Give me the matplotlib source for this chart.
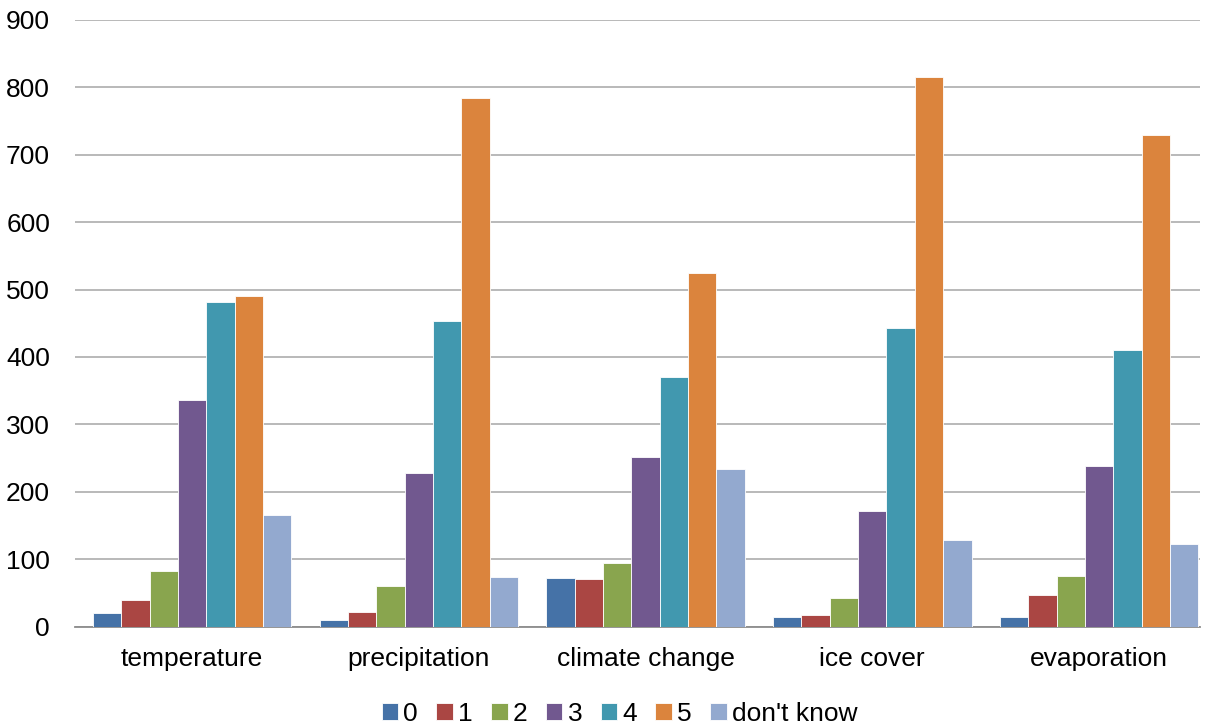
import matplotlib
matplotlib.use("Agg")
import matplotlib.pyplot as plt
import numpy as np

plt.rcParams['font.family'] = ['Liberation Sans', 'DejaVu Sans']

categories = ["temperature", "precipitation", "climate change", "ice cover", "evaporation"]
series_names = ["0", "1", "2", "3", "4", "5", "don't know"]

s0 = [20, 9, 72, 14, 14]
s1 = [39, 22, 70, 17, 47]
s2 = [82, 60, 95, 43, 75]
s3 = [336, 228, 252, 171, 238]
s4 = [482, 454, 371, 443, 411]
s5 = [491, 784, 524, 815, 729]
s_dk = [166, 74, 234, 128, 122]
series = [s0, s1, s2, s3, s4, s5, s_dk]

colors = ["#4572A7", "#AA4643", "#89A54E", "#71588F", "#4198AF", "#DB843D", "#93A9CF"]
y_ticks = [0, 100, 200, 300, 400, 500, 600, 700, 800, 900]

fig = plt.figure(figsize=(12.1, 7.27), dpi=100)
ax = fig.add_axes([0.062, 0.1382, 0.9297, 0.8343])

x = np.arange(len(categories))
width = 0.125
n = len(series)
for i, (vals, name, c) in enumerate(zip(series, series_names, colors)):
    offset = (i - (n - 1) / 2) * width
    ax.bar(x + offset, vals, width, color=c, label=name,
           edgecolor="white", linewidth=0.6, zorder=3)

ax.set_xlim(-0.516, 4.445)
ax.set_ylim(0, 900)
ax.set_yticks(y_ticks)
ax.set_yticklabels([str(t) for t in y_ticks], fontsize=19)
ax.set_xticks(x)
ax.set_xticklabels(categories, fontsize=19)
ax.tick_params(axis='y', length=0, pad=18)
ax.tick_params(axis='x', length=0, pad=15)

ax.yaxis.grid(True, color="#A6A6A6", linewidth=1.1, zorder=0)
ax.set_axisbelow(True)
for side in ["top", "right", "left"]:
    ax.spines[side].set_visible(False)
ax.spines["bottom"].set_color("#8C8C8C")
ax.spines["bottom"].set_linewidth(1.3)

leg = fig.legend(loc="center", bbox_to_anchor=(0.512, 0.018), ncol=7, frameon=False,
                 fontsize=19, handlelength=0.62, handleheight=0.62,
                 handletextpad=0.2, columnspacing=0.7, borderpad=0)

fig.savefig("out.png", dpi=100)
